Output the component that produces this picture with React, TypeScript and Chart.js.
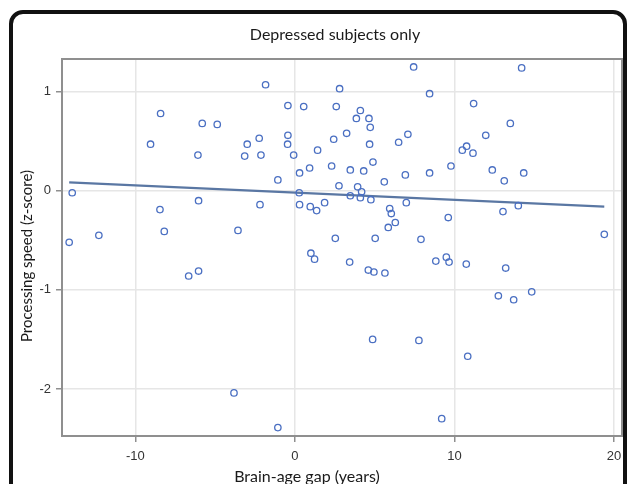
import React, { useEffect, useRef } from "react";
import { Chart, registerables } from "chart.js";

Chart.register(...registerables);

// Brain-age gap (years)
const gapYears: number[] = [
  -8.42, -5.81, -4.87, -9.05, -2.99, -6.08, -3.15, -13.96, -6.04, -8.46, -8.19, -3.57, -12.29, -14.15,
  -1.84, 2.8, 7.44, 8.44, -0.44, 0.55, 2.59, 4.1, 3.85, 4.64, 4.72, 3.24, 7.08, -2.24, -0.44, 2.43,
  -0.46, 4.68, 6.5, -2.13, -0.08, 1.42, 2.3, 0.92, 0.29, 3.47, 4.31, 4.89, 6.92, 8.44, -1.07, 2.76,
  5.6, 3.93, 0.27, 4.18, 3.47, 4.1, 4.76, -2.19, 0.29, 0.96, 1.36, 1.86, 6.98, 5.94, 6.04, 6.29,
  5.85, 2.53, 5.03, 7.9, 1.0,
  14.21, 11.2, 13.5, 11.96, 10.49, 10.76, 11.16, 9.78, 12.37, 13.12, 14.34, 14.0, 13.04, 9.61, 19.39,
  -6.66, -6.04, -3.82,
  1.23, 3.43, 4.6, 4.95, 5.64, 8.83, 4.87, 7.77, -1.07,
  9.49, 9.66, 10.74, 13.21, 12.75, 13.71, 14.84, 10.83, 9.2,
];

// Processing speed (z-score)
const speedZ: number[] = [
  0.78, 0.68, 0.67, 0.47, 0.47, 0.36, 0.35, -0.02, -0.1, -0.19, -0.41, -0.4, -0.45, -0.52,
  1.07, 1.03, 1.25, 0.98, 0.86, 0.85, 0.85, 0.81, 0.73, 0.73, 0.64, 0.58, 0.57, 0.53, 0.56, 0.52,
  0.47, 0.47, 0.49, 0.36, 0.36, 0.41, 0.25, 0.23, 0.18, 0.21, 0.2, 0.29, 0.16, 0.18, 0.11, 0.05,
  0.09, 0.04, -0.02, -0.01, -0.05, -0.07, -0.09, -0.14, -0.14, -0.16, -0.2, -0.12, -0.12, -0.18, -0.23, -0.32,
  -0.37, -0.48, -0.48, -0.49, -0.63,
  1.24, 0.88, 0.68, 0.56, 0.41, 0.45, 0.38, 0.25, 0.21, 0.1, 0.18, -0.15, -0.21, -0.27, -0.44,
  -0.86, -0.81, -2.04,
  -0.69, -0.72, -0.8, -0.82, -0.83, -0.71, -1.5, -1.51, -2.39,
  -0.67, -0.72, -0.74, -0.78, -1.06, -1.1, -1.02, -1.67, -2.3,
];

// Fitted regression line endpoints
const fitX: number[] = [-14.15, 19.39];
const fitY: number[] = [0.085, -0.16];

const xTicks: number[] = [-10, 0, 10, 20];
const yTicks: number[] = [1, 0, -1, -2];

const titleText = "Depressed subjects only";
const xTitle = "Brain-age gap (years)";
const yTitle = "Processing speed (z-score)";

const frameBorder = {
  id: "plotFrame",
  afterDatasetsDraw(chart: any) {
    const { ctx, chartArea } = chart;
    ctx.save();
    ctx.strokeStyle = "#8f8f8f";
    ctx.lineWidth = 2;
    ctx.strokeRect(chartArea.left, chartArea.top, chartArea.right - chartArea.left, chartArea.bottom - chartArea.top);
    ctx.restore();
  },
};

const textLabels = {
  id: "textLabels",
  afterDraw(chart: any) {
    const { ctx } = chart;
    ctx.save();
    ctx.fillStyle = "#1a1a1a";
    ctx.textAlign = "center";
    ctx.textBaseline = "middle";
    ctx.font = "16px Lato";
    ctx.fillText(titleText, 335, 35);
    ctx.font = "16px Lato";
    ctx.fillText(xTitle, 307, 477);
    ctx.translate(27, 256);
    ctx.rotate(-Math.PI / 2);
    ctx.font = "15px Lato";
    ctx.fillText(yTitle, 0, 0);
    ctx.restore();
  },
};

export default function App() {
  const ref = useRef<HTMLCanvasElement | null>(null);

  useEffect(() => {
    if (!ref.current) return;
    const points = gapYears.map((x, i) => ({ x, y: speedZ[i] }));
    const line = fitX.map((x, i) => ({ x, y: fitY[i] }));
    const chart = new Chart(ref.current, {
      type: "scatter",
      data: {
        datasets: [
          {
            type: "line",
            data: line,
            borderColor: "#5a77a3",
            borderWidth: 2.2,
            pointRadius: 0,
            fill: false,
            order: 2,
          } as any,
          {
            data: points,
            pointStyle: "circle",
            pointRadius: 3.2,
            pointBorderWidth: 1.3,
            pointBorderColor: "#4a6fc2",
            pointBackgroundColor: "rgba(255,255,255,0)",
            borderColor: "#4a6fc2",
            backgroundColor: "rgba(255,255,255,0)",
            order: 1,
          },
        ],
      },
      options: {
        animation: false,
        responsive: false,
        maintainAspectRatio: false,
        layout: { padding: { left: 0, top: 59, right: 7, bottom: 0 } },
        plugins: {
          legend: { display: false },
          tooltip: { enabled: false },
          title: { display: false },
        },
        scales: {
          x: {
            type: "linear",
            min: -14.6,
            max: 20.5,
            afterBuildTicks: (s: any) => {
              s.ticks = xTicks.map((v) => ({ value: v }));
            },
            afterFit: (s: any) => {
              s.height = 48;
            },
            grid: {
              color: "#e6e6e6",
              lineWidth: 1.5,
              drawTicks: true,
              tickLength: 6,
              tickColor: "#8f8f8f",
              tickWidth: 1.5,
            },
            border: { display: false },
            ticks: {
              color: "#333333",
              padding: 7,
              maxRotation: 0,
              font: { family: "Liberation Sans", size: 13 },
            },
          },
          y: {
            type: "linear",
            min: -2.475,
            max: 1.33,
            afterBuildTicks: (s: any) => {
              s.ticks = yTicks.map((v) => ({ value: v }));
            },
            afterFit: (s: any) => {
              s.width = 62;
            },
            grid: {
              color: "#e6e6e6",
              lineWidth: 1.5,
              drawTicks: true,
              tickLength: 6,
              tickColor: "#8f8f8f",
              tickWidth: 1.5,
            },
            border: { display: false },
            ticks: {
              color: "#333333",
              padding: 5,
              font: { family: "Liberation Sans", size: 13 },
            },
          },
        },
      },
      plugins: [frameBorder, textLabels],
    });
    return () => chart.destroy();
  }, []);

  return (
    <div
      style={{
        position: "absolute",
        left: 0,
        top: 0,
        width: 629,
        height: 484,
        overflow: "hidden",
        background: "#ffffff",
      }}
    >
      <div
        style={{
          position: "absolute",
          left: 9,
          top: 10,
          width: 610,
          height: 520,
          border: "4px solid #111111",
          borderRadius: 14,
        }}
      />
      <canvas
        ref={ref}
        width={629}
        height={484}
        style={{ position: "absolute", left: 0, top: 0, width: 629, height: 484 }}
      />
    </div>
  );
}
